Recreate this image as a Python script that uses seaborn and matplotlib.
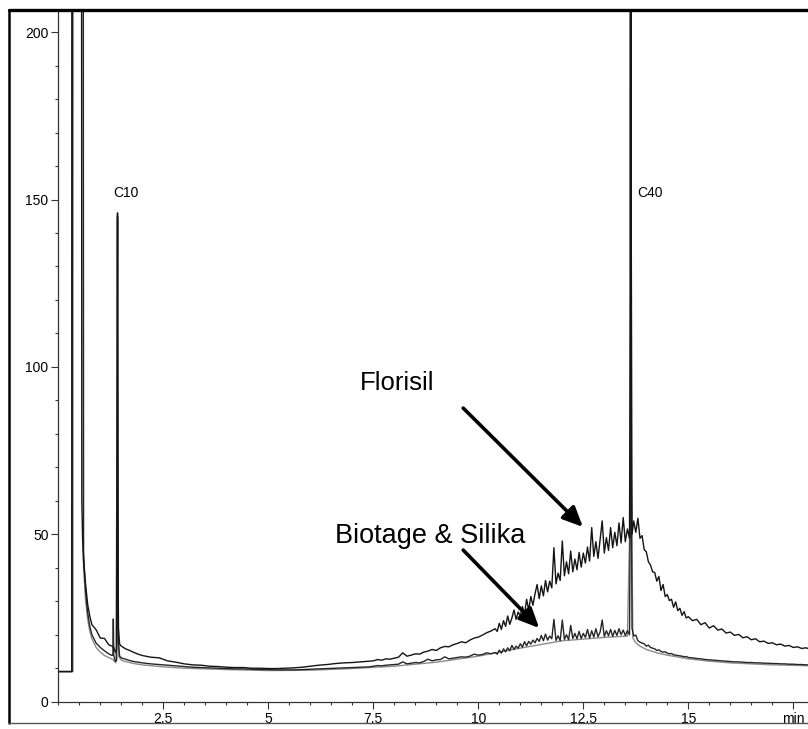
import numpy as np
import pandas as pd
import matplotlib
matplotlib.use("Agg")
import matplotlib.pyplot as plt
from matplotlib.lines import Line2D
from matplotlib.ticker import MultipleLocator, FixedLocator
import seaborn as sns

# ---------------- data ----------------
time_min = [
    0.00, 0.32, 0.33, 0.36, 0.53, 0.56, 0.58, 0.60, 0.65, 0.70,
    0.75, 0.80, 0.90, 1.00, 1.10, 1.20, 1.28, 1.30, 1.31, 1.32,
    1.36, 1.39, 1.40, 1.41, 1.42, 1.43, 1.46, 1.50, 1.60, 1.70,
    1.80, 1.90, 2.00,
    2.2, 2.4, 2.6, 2.8, 3.0, 3.2, 3.4, 3.6, 3.8, 4.0,
    4.2, 4.4, 4.6, 4.8, 5.0, 5.2, 5.4, 5.6, 5.8, 6.0,
    6.2, 6.4, 6.6, 6.8, 7.0, 7.2, 7.4,
    7.5, 7.6, 7.7, 7.8, 7.9, 8.0, 8.1, 8.2, 8.3, 8.4,
    8.5, 8.6, 8.7, 8.8, 8.9, 9.0, 9.1, 9.2, 9.3, 9.4,
    9.5, 9.6, 9.7, 9.8, 9.9, 10.0, 10.1, 10.2, 10.3, 10.4,
    10.45, 10.50, 10.55, 10.60, 10.65, 10.70, 10.75, 10.80, 10.85, 10.90,
    10.95, 11.00, 11.05, 11.10, 11.15, 11.20, 11.25, 11.30, 11.35, 11.40,
    11.45, 11.50, 11.55, 11.60, 11.65, 11.70, 11.75, 11.80, 11.85, 11.90,
    11.95, 12.00, 12.05, 12.10, 12.15, 12.20, 12.25, 12.30, 12.35, 12.40,
    12.45, 12.50, 12.55, 12.60, 12.65, 12.70, 12.75, 12.80, 12.85, 12.90,
    12.95, 13.00, 13.05, 13.10, 13.15, 13.20, 13.25, 13.30, 13.35, 13.40,
    13.45, 13.50, 13.55, 13.60,
    13.62, 13.63, 13.64,
    13.66, 13.70, 13.75, 13.80, 13.85, 13.90, 13.95, 14.00, 14.05, 14.10,
    14.15, 14.20, 14.25, 14.30, 14.35, 14.40, 14.45, 14.50, 14.55, 14.60,
    14.65, 14.70, 14.75, 14.80, 14.85, 14.90, 14.95, 15.00,
    15.1, 15.2, 15.3, 15.4, 15.5, 15.6, 15.7, 15.8, 15.9, 16.0,
    16.1, 16.2, 16.3, 16.4, 16.5, 16.6, 16.7, 16.8, 16.9, 17.0,
    17.1, 17.2, 17.3, 17.4, 17.5, 17.6, 17.7, 17.8, 17.9, 18.0,
]

florisil = [
    9, 9, 900, 900, 900, 60, 48, 42, 35, 29,
    25.5, 23, 21.5, 19.0, 18.9, 17.0, 16.6, 16.4, 16.3, 16.2,
    14.8, 15.5, 80, 146, 60, 22, 17.2, 16.6, 15.8, 15.3,
    14.7, 14.2, 13.8,
    13.3, 13.1, 12.2, 11.8, 11.3, 11.0, 10.9, 10.6, 10.5, 10.3,
    10.2, 10.2, 10.0, 10.0, 9.9, 9.9, 10.0, 10.1, 10.3, 10.6,
    10.9, 11.1, 11.4, 11.6, 11.7, 11.9, 12.1,
    12.2, 12.6, 12.4, 12.8, 12.7, 13.0, 13.3, 14.6, 13.6, 13.9,
    14.3, 14.2, 14.8, 15.1, 15.6, 15.3, 16.1, 16.5, 16.4, 17.0,
    17.4, 17.9, 17.6, 18.4, 19.0, 19.3, 19.9, 20.6, 21.1, 21.8,
    21.0, 23.4, 21.6, 24.2, 22.5, 25.6, 23.1, 25.0, 27.4, 24.6,
    26.8, 25.6, 28.4, 26.2, 30.6, 27.4, 31.4, 28.8, 32.2, 35.0,
    30.8, 34.6, 31.6, 36.2, 32.8, 36.0, 34.0, 46.0, 35.2, 38.4,
    36.2, 48.0, 37.6, 41.8, 38.2, 45.0, 38.8, 42.6, 39.4, 44.6,
    40.2, 44.4, 41.4, 46.2, 42.0, 52.0, 43.4, 47.8, 42.8, 48.4,
    54.0, 44.4, 49.0, 45.2, 52.0, 46.0, 50.6, 46.6, 53.4, 47.4,
    55.0, 47.8, 51.6, 48.8,
    120, 900, 150,
    50.0, 54.0, 50.6, 54.8, 48.8, 49.6, 45.4, 44.8, 41.8, 40.8,
    38.8, 38.6, 36.0, 37.4, 33.2, 35.0, 31.4, 32.0, 30.2, 30.6,
    28.2, 29.8, 27.2, 27.9, 25.8, 26.9, 25.0, 25.4,
    24.2, 24.6, 23.0, 23.6, 22.0, 22.7, 21.4, 21.7, 20.5, 20.8,
    19.8, 20.1, 19.1, 19.4, 18.5, 18.8, 17.9, 18.1, 17.4, 17.6,
    17.0, 17.2, 16.6, 16.8, 16.2, 16.4, 15.9, 16.1, 15.7, 15.8,
]

biotage = [
    9, 9, 9, 900, 900, 900, 900, 45, 33, 26.5,
    22.5, 20, 17.5, 16.2, 15.2, 14.3, 13.8, 13.9, 24.7, 13.8,
    12.0, 12.4, 80, 145, 50, 18, 13.6, 13.1, 12.7, 12.3,
    12.0, 11.8, 11.6,
    11.3, 11.1, 10.9, 10.7, 10.5, 10.3, 10.2, 10.1, 10.0, 9.9,
    9.8, 9.8, 9.7, 9.6, 9.6, 9.5, 9.5, 9.5, 9.6, 9.7,
    9.8, 9.9, 10.0, 10.1, 10.2, 10.3, 10.4,
    10.6, 10.8, 10.7, 10.9, 11.0, 11.1, 11.2, 11.9, 11.3, 11.5,
    11.7, 11.6, 12.0, 12.7, 12.2, 12.5, 12.6, 13.4, 12.8, 13.0,
    13.2, 13.4, 13.3, 13.6, 14.2, 13.9, 14.1, 14.6, 14.3, 14.7,
    14.2, 15.4, 14.5, 15.8, 14.9, 16.1, 15.2, 16.8, 15.6, 16.6,
    16.0, 17.3, 16.3, 17.9, 16.7, 18.0, 17.2, 18.4, 17.6, 18.9,
    18.0, 19.8, 18.2, 20.2, 18.4, 19.6, 18.8, 24.6, 18.3, 19.7,
    18.2, 24.4, 18.6, 20.0, 18.5, 22.8, 18.9, 20.4, 18.8, 21.0,
    18.9, 20.4, 19.2, 21.6, 19.0, 21.2, 19.3, 21.8, 19.4, 20.8,
    24.4, 19.5, 21.2, 19.7, 21.6, 19.5, 21.3, 19.8, 21.8, 20.0,
    21.4, 19.8, 21.2, 20.0,
    60, 900, 80,
    22.0, 19.6, 19.9, 18.2, 17.8, 17.5, 17.3, 16.6, 16.9, 16.2,
    16.0, 15.8, 15.3, 15.5, 15.0, 14.8, 14.9, 14.5, 14.3, 14.4,
    14.0, 13.9, 13.8, 13.7, 13.6, 13.4, 13.5, 13.2,
    13.1, 12.9, 12.8, 12.6, 12.5, 12.4, 12.3, 12.2, 12.1, 12.0,
    11.9, 11.9, 11.8, 11.7, 11.7, 11.6, 11.6, 11.5, 11.5, 11.4,
    11.4, 11.3, 11.3, 11.2, 11.2, 11.1, 11.1, 11.0, 11.0, 11.0,
]

silika_time = [
    0.00, 0.35, 0.36, 0.57, 0.60, 0.65, 0.70, 0.75, 0.80, 0.90,
    1.00, 1.10, 1.20, 1.30, 1.37, 1.40, 1.41, 1.42, 1.44, 1.50,
    1.60, 1.80, 2.00, 2.50, 3.00, 4.00, 5.00, 6.00, 7.00, 8.00,
    9.00, 10.00, 11.00, 12.00, 13.00, 13.55, 13.62, 13.63, 13.64, 13.68,
    13.75, 13.85, 14.00, 14.25, 14.50, 15.00, 15.50, 16.00, 17.00, 18.00,
]
silika = [
    9, 9, 900, 900, 40, 30, 24.5, 21, 18.8, 16.2,
    14.8, 13.8, 13.2, 12.6, 11.6, 80, 144, 45, 13.5, 12.4,
    12.0, 11.4, 11.0, 10.4, 10.0, 9.6, 9.3, 9.4, 9.9, 10.6,
    11.8, 13.6, 16.0, 18.2, 19.2, 19.6, 60, 900, 70, 19.0,
    17.6, 16.6, 15.6, 14.6, 13.9, 12.8, 12.1, 11.6, 11.0, 10.7,
]

y_major = [0, 50, 100, 150, 200]
x_major = [2.5, 5, 7.5, 10, 12.5, 15, 17.5]
x_labels = ["2.5", "5", "7.5", "10", "12.5", "15", "min"]

# ---------------- figure ----------------
sns.set_style("ticks")
plt.rcParams["font.family"] = ["Liberation Sans", "DejaVu Sans"]
plt.rcParams["text.color"] = "black"
plt.rcParams["xtick.labelcolor"] = "black"
plt.rcParams["ytick.labelcolor"] = "black"

W, H = 808, 729
fig = plt.figure(figsize=(W / 100, H / 100), dpi=100)
x0_px, y0_px = 58.3, 701.7
px_per_min, px_per_unit = 42.0, 3.348
ax = fig.add_axes([x0_px / W, (H - y0_px) / H,
                   18.0 * px_per_min / W, (y0_px - 10) / H])
ax.set_facecolor("white")

df_f = pd.DataFrame({"t": time_min, "v": florisil})
df_b = pd.DataFrame({"t": time_min, "v": biotage})
df_s = pd.DataFrame({"t": silika_time, "v": silika})

sns.lineplot(data=df_s, x="t", y="v", ax=ax, color="#8c8c8c", lw=1.0,
             estimator=None, sort=False)
sns.lineplot(data=df_b, x="t", y="v", ax=ax, color="#262626", lw=1.0,
             estimator=None, sort=False)
sns.lineplot(data=df_f, x="t", y="v", ax=ax, color="#141414", lw=1.0,
             estimator=None, sort=False)

ax.set_xlim(0, 18.0)
ax.set_ylim(0, (y0_px - 10) / px_per_unit)
ax.set_xlabel("")
ax.set_ylabel("")

for s in ["top", "right"]:
    ax.spines[s].set_visible(False)
for s in ["left", "bottom"]:
    ax.spines[s].set_color("#333333")
    ax.spines[s].set_linewidth(0.9)

ax.yaxis.set_major_locator(FixedLocator(y_major))
ax.yaxis.set_minor_locator(MultipleLocator(10))
ax.xaxis.set_major_locator(FixedLocator(x_major))
ax.xaxis.set_minor_locator(MultipleLocator(0.5))
ax.set_xticklabels(x_labels)
ax.tick_params(axis="both", which="major", length=5, width=0.8,
               color="#333333", labelsize=10, labelcolor="black",
               direction="out")
ax.tick_params(axis="both", which="minor", length=2.5, width=0.8,
               color="#333333", direction="out")
ax.tick_params(axis="x", which="major", pad=2.5)
ax.tick_params(axis="y", which="major", pad=2)

# peak labels
ax.text(1.30, 150.7, "C10", fontsize=10, ha="left", va="baseline",
        color="black")
ax.text(13.78, 150.8, "C40", fontsize=10, ha="left", va="baseline",
        color="black")

# annotations with arrows
ax.text(8.06, 93.1, "Florisil", fontsize=18.5, ha="center", va="baseline",
        color="black")
ax.text(8.85, 47.3, "Biotage & Silika", fontsize=19.5, ha="center",
        va="baseline", color="black")
arrow = dict(arrowstyle="-|>,head_length=1.2,head_width=0.55",
             mutation_scale=10, lw=2.6, color="black",
             shrinkA=0, shrinkB=0)
ax.annotate("", xy=(12.49, 52.2), xytext=(9.64, 87.7), arrowprops=arrow)
ax.annotate("", xy=(11.45, 22.0), xytext=(9.64, 45.3), arrowprops=arrow)

# outer scan frame
def fx(p):
    return p / W
def fy(p):
    return 1 - p / H
fig.add_artist(Line2D([fx(9), fx(9)], [fy(10), fy(723)], color="black",
                      lw=1.8, transform=fig.transFigure))
fig.add_artist(Line2D([fx(9), fx(808)], [fy(10), fy(10)], color="black",
                      lw=2.4, transform=fig.transFigure))
fig.add_artist(Line2D([fx(9), fx(808)], [fy(723), fy(723)], color="#555555",
                      lw=1.0, transform=fig.transFigure))

fig.savefig("out.png", dpi=100)
